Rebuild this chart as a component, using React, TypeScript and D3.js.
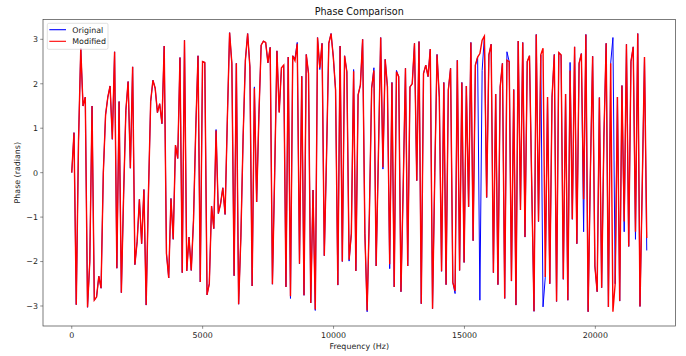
import * as d3 from 'd3'

const WIDTH = 686
const HEIGHT = 356
const FONT = '"DejaVu Sans", sans-serif'

// FFT bin width: 44100 / 512
const binWidth = 86.13

const phaseOriginal = [
  0, 0.9, -2.97, 0.7, 2.8, 1.5, 1.7, -3.03, -2, 1.5, -2.87, -2.8, -2.33, -2.6, 0, 1.3,
  1.7, 1.95, 0.75, 2.72, -2.15, 1.6, -2.7, -0.5, 1.4, 2.05, 0.1, 2.38, -2.07, -1.55, -0.6, -1.6,
  -0.38, -2.98, -0.5, 1.6, 2.08, 1.9, 1.35, 1.55, 1.1, 2.85, -1.82, -2.37, -0.58, -1.5, 0.62, 0.32,
  2.59, -2.25, 2.98, -2.21, -1.45, -2.2, -1.07, 1.0, 2.63, -2.46, 2.5, 2.48, -2.75, -2.5, -0.75, -1.26,
  0.97, -0.92, -0.7, -0.34, -0.94, 1.2, 3.15, 2.46, -2.32, 2.46, -2.96, -1.45, 0.8, 2.53, 3.13, 2.38,
  -2.55, 1.93, -0.66, 1.3, 2.87, 2.96, 2.93, 2.47, 2.82, -2.51, 0, 2.74, 1.37, 2.36, 2.42, -2.57,
  2.6, -2.83, 2.63, 2.57, 2.93, -2.05, 2.17, -2.76, 2.66, 2.23, -2.93, -0.39, -3.1, 3.04, 2.32, 2.91,
  -1.87, 0.4, 2.91, 3.13, 2.6, 1.86, -2.53, 2.85, -2, 2.63, 2.27, -1.99, -1.37, 2.32, -2.21, 1.75,
  1.97, 3, -1.37, -3.13, -0.92, 1.9, 2.36, -2.1, 0.4, 3.04, 0.08, 2.55, 1.93, -2.16, 2.03, -2.57,
  2.3, 2.16, -2.68, -0.3, 2.35, -2.1, 1.93, 2, 2.91, -0.18, 2.95, -2.95, 2.23, 2.42, 2.16, 2.78,
  -3.06, 0, 2.66, 1.7, -2.22, 2.03, -2.52, 1.86, 2.35, -2.47, -2.72, 2.53, -2.2, 2.03, -2.02, 1.95,
  -0.77, 2.93, -1.53, 2.42, 2.6, -2.87, 2.3, 3.07, -0.56, 2.65, 2.89, -2.25, 1.77, -2.52, 1.93, 2.46,
  -2.83, 2.72, 2.5, -2.44, 1.87, -2.98, 2.96, -0.84, 2.93, -1.45, 2.5, 2.63, -0.3, -3.12, 3.11, -1.1,
  2.65, -3.02, -2.35, 1.7, -2.5, 1.7, 2.66, -2.9, 2.7, 2.65, -2.4, 1.77, -2.87, 2.48, -1.05, 2.83,
  -1.6, 2.46, 2.68, -1.33, 3.11, -3.13, 0, 2.62, -2.1, -2.68, 1.69, -2.59, 0.8, 2.91, -3.02, 2.46,
  3.04, -2.5, 1.7, -2.89, 1.96, -1.33, 2.89, -1.66, 2.5, 2.83, -1.5, 3.13, -3.01, -0.3, 2.6, -1.75,
]

const phaseModified = [
  0, 0.9, -2.97, 0.7, 2.8, 1.5, 1.7, -3.03, -2, 1.5, -2.87, -2.8, -2.33, -2.6, 0, 1.3,
  1.7, 1.95, 0.75, 2.72, -2.15, 1.6, -2.7, -0.5, 1.4, 2.05, 0.1, 2.38, -2.07, -1.55, -0.6, -1.6,
  -0.38, -2.98, -0.5, 1.6, 2.08, 1.9, 1.35, 1.55, 1.1, 2.85, -1.82, -2.37, -0.58, -1.5, 0.62, 0.32,
  2.59, -2.25, 2.98, -2.21, -1.45, -2.2, -1.07, 1.0, 2.63, -2.46, 2.5, 2.48, -2.75, -2.5, -0.75, -1.26,
  0.95, -0.92, -0.7, -0.34, -0.94, 1.2, 3.15, 2.46, -2.32, 2.46, -2.96, -1.45, 0.8, 2.53, 3.13, 2.38,
  -2.55, 1.9, -0.66, 1.3, 2.87, 2.96, 2.93, 2.47, 2.82, -2.51, 0, 2.74, 1.35, 2.36, 2.42, -2.57,
  2.6, -2.78, 2.63, 2.52, 2.9, -2.05, 2.17, -2.76, 2.66, 2.23, -2.93, -0.39, -3.08, 3.04, 2.36, 2.91,
  -1.87, 0.4, 2.91, 3.13, 2.6, 1.86, -2.53, 2.85, -2, 2.63, 2.27, -1.96, -1.37, 2.28, -2.21, 1.75,
  1.97, 3, -1.37, -3.1, -0.92, 1.9, 2.3, -2.1, 0.4, 3.04, 0.12, 2.55, 1.93, -2.06, 2.03, -2.57,
  2.27, 2.16, -2.68, -0.3, 2.35, -2.1, 1.93, 2, 2.91, -0.18, 2.95, -2.95, 2.23, 2.42, 2.16, 2.78,
  -3.06, 0, 2.66, 1.7, -2.22, 2.03, -2.52, 1.86, 2.35, -2.47, -2.66, 2.53, -2.2, 2.03, -2.02, 1.95,
  -0.77, 2.93, -1.53, 2.42, 2.6, 2.68, 2.98, 3.07, -0.56, 2.65, 2.89, -2.25, 1.77, -2.52, 1.93, 2.46,
  -2.83, 2.53, 2.5, -2.44, 1.87, -2.98, 2.96, -0.84, 2.93, -1.45, 2.5, 2.63, -0.3, -3.12, 3.11, -1.1,
  2.65, 2.8, -2.35, 1.7, -2.5, 1.7, 2.66, -2.9, 2.7, 2.65, -2.4, 1.77, -2.87, 2.3, -1.05, 2.83,
  -1.6, 2.46, 2.68, -0.6, 3.11, -3.13, 0, 2.62, -2.1, -2.68, 1.69, -2.59, 0.8, 2.91, -3.02, 2.46,
  -3.13, -2.5, 1.7, -2.89, 1.96, -1.1, 2.89, -1.66, 2.5, 2.83, -1.33, 3.13, -3.01, -0.3, 2.6, -1.47,
]

const xTicks = [0, 5000, 10000, 15000, 20000]
const yTicks = [-3, -2, -1, 0, 1, 2, 3]
const seriesNames = ['Original', 'Modified']
const seriesColors = ['blue', 'red']

const margin = { left: 43, right: 10.5, top: 19.5, bottom: 30 }

export default function App() {
  const frequencies = phaseOriginal.map((_, i) => i * binWidth)

  const xMax = d3.max(frequencies) as number
  const x = d3.scaleLinear()
    .domain([-0.05 * xMax, 1.05 * xMax])
    .range([margin.left, WIDTH - margin.right])
  const y = d3.scaleLinear()
    .domain([-3.45, 3.446])
    .range([HEIGHT - margin.bottom, margin.top])

  const line = d3.line<number>()
    .x((_, i) => x(frequencies[i]))
    .y((d) => y(d))

  const fmt = (t: number) => String(t).replace('-', '\u2212')
  const bottom = HEIGHT - margin.bottom
  const right = WIDTH - margin.right

  return (
    <svg
      width={WIDTH}
      height={HEIGHT}
      style={{ position: 'absolute', left: 0, top: 0, background: 'white' }}
      fontFamily={FONT}
    >
      <text x={(margin.left + right) / 2} y={14.5} textAnchor="middle" fontSize={9.6} fill="#111">
        Phase Comparison
      </text>

      {/* series, red drawn a bit wider so it hides the blue where they coincide */}
      <path d={line(phaseOriginal) ?? ''} fill="none" stroke={seriesColors[0]} strokeWidth={1} />
      <path d={line(phaseModified) ?? ''} fill="none" stroke={seriesColors[1]} strokeWidth={1.4} />

      {/* frame */}
      <rect
        x={margin.left}
        y={margin.top}
        width={right - margin.left}
        height={bottom - margin.top}
        fill="none"
        stroke="#444"
        strokeWidth={0.7}
      />

      {/* axes */}
      {xTicks.map((t) => (
        <g key={t}>
          <line x1={x(t)} x2={x(t)} y1={bottom} y2={bottom + 2.8} stroke="#444" strokeWidth={0.6} />
          <text x={x(t)} y={338} textAnchor="middle" fontSize={7.9} fill="#222">{fmt(t)}</text>
        </g>
      ))}
      {yTicks.map((t) => (
        <g key={t}>
          <line x1={margin.left - 2.8} x2={margin.left} y1={y(t)} y2={y(t)} stroke="#444" strokeWidth={0.6} />
          <text x={38} y={y(t) + 2.9} textAnchor="end" fontSize={7.9} fill="#222">{fmt(t)}</text>
        </g>
      ))}
      <text x={(margin.left + right) / 2} y={348.5} textAnchor="middle" fontSize={7.9} fill="#222">
        Frequency (Hz)
      </text>
      <text
        transform={`translate(20, ${(margin.top + bottom) / 2}) rotate(-90)`}
        textAnchor="middle"
        fontSize={7.9}
        fill="#222"
      >
        Phase (radians)
      </text>

      {/* legend */}
      <rect x={47.3} y={23.3} width={60.7} height={26} rx={1.5} fill="white" fillOpacity={0.8} stroke="#ccc" strokeWidth={0.6} />
      {seriesNames.map((name, i) => (
        <g key={name}>
          <line x1={49.3} x2={66} y1={29.7 + i * 11.6} y2={29.7 + i * 11.6} stroke={seriesColors[i]} strokeWidth={1.1} />
          <text x={72.3} y={32.6 + i * 11.6} fontSize={7.9} fill="#222">{name}</text>
        </g>
      ))}
    </svg>
  )
}
